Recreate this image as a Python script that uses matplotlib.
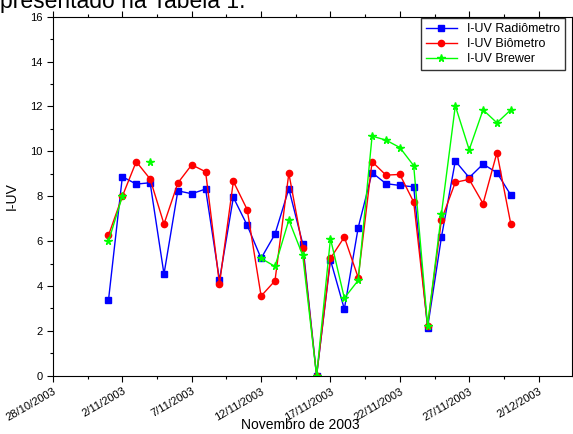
import numpy as np
import pandas as pd
import matplotlib
matplotlib.use("Agg")
import matplotlib.pyplot as plt
import matplotlib.dates as mdates
from matplotlib.ticker import FuncFormatter, MultipleLocator

plt.rcParams['font.family'] = ['Liberation Sans', 'DejaVu Sans']

dias = pd.date_range('2003-11-01', '2003-11-30')

radiometro = [3.37, 8.87, 8.54, 8.60, 4.53, 8.24, 8.11, 8.32, 4.26, 7.95,
              6.70, 5.23, 6.31, 8.33, 5.88, 0.0, 5.16, 2.97, 6.60, 9.05,
              8.56, 8.48, 8.42, 2.14, 6.18, 9.57, 8.83, 9.43, 9.05, 8.05]
biometro = [6.26, 8.00, 9.54, 8.77, 6.76, 8.59, 9.40, 9.09, 4.09, 8.66,
            7.40, 3.55, 4.23, 9.02, 5.69, 0.0, 5.23, 6.18, 4.37, 9.54,
            8.94, 8.97, 7.74, 2.23, 6.95, 8.62, 8.75, 7.67, 9.94, 6.76]
brewer = [5.99, 8.00, np.nan, 9.52, np.nan, np.nan, np.nan, np.nan, np.nan, np.nan,
          np.nan, 5.23, 4.87, 6.94, 5.36, 0.0, 6.11, 3.46, 4.25, 10.68,
          10.50, 10.17, 9.36, 2.23, 7.22, 12.03, 10.07, 11.85, 11.27, 11.85]

fig = plt.figure(figsize=(5.73, 4.34), dpi=100)
ax = fig.add_axes([0.0925, 0.1343, 0.9055, 0.8272])

ax.plot(dias, radiometro, color='#0000ff', marker='s', markersize=4, lw=1,
        label='I-UV Radiômetro')
ax.plot(dias, biometro, color='#ff0000', marker='o', markersize=4.5, lw=1,
        label='I-UV Biômetro')
ax.plot(dias, brewer, color='#00ff00', marker='*', markersize=5.5, lw=1,
        label='I-UV Brewer')

x0 = mdates.date2num(pd.Timestamp('2003-10-28'))
ax.set_xlim(x0, x0 + 37.4)
ax.set_ylim(0, 16)

ax.xaxis.set_major_locator(MultipleLocator(5, offset=x0 % 5))
ax.xaxis.set_minor_locator(MultipleLocator(2.5, offset=x0 % 2.5))
ax.xaxis.set_major_formatter(FuncFormatter(
    lambda v, p: '{d.day}/{d.month}/{d.year}'.format(d=mdates.num2date(v))))
ax.yaxis.set_major_locator(MultipleLocator(2))
ax.yaxis.set_minor_locator(MultipleLocator(1))

ax.tick_params(which='major', length=4, width=0.8, labelsize=8, top=True, right=True)
ax.tick_params(which='minor', length=2, width=0.8, top=True, right=True)
for lab in ax.get_xticklabels():
    lab.set_rotation(30)
    lab.set_ha('right')
    lab.set_rotation_mode('anchor')

ax.set_xlabel('Novembro de 2003', fontsize=10, va='center')
ax.xaxis.set_label_coords(0.476, -0.137)
ax.set_ylabel('I-UV', fontsize=10, labelpad=8)

leg = ax.legend(loc='upper right', fontsize=9, frameon=True, fancybox=False,
                borderpad=0.4, labelspacing=0.25, handlelength=2.5,
                bbox_to_anchor=(0.9865, 0.9963), borderaxespad=0)
leg.get_frame().set_edgecolor('black')
leg.get_frame().set_linewidth(1)

fig.text(0.0, 1 - 8 / 434, 'presentado na Tabela 1.', fontsize=16.5, va='baseline')

fig.savefig('out.png', dpi=100)
